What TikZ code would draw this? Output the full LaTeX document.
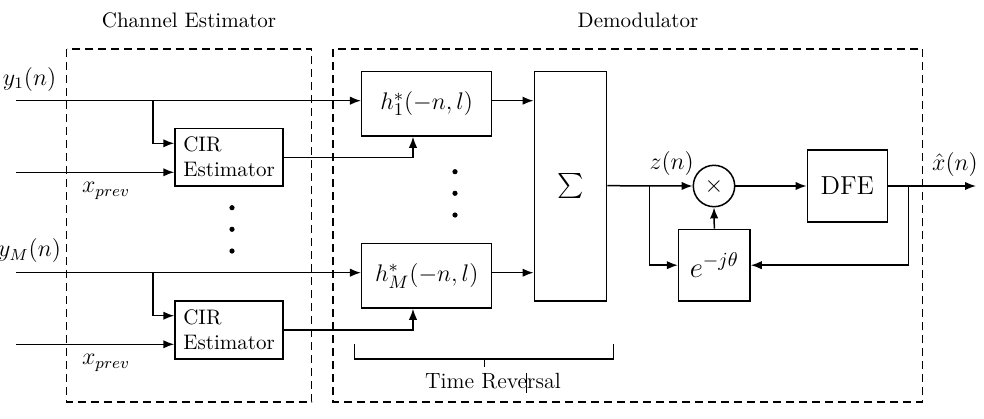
\documentclass[tikz,border=0pt]{standalone}
\usepackage{graphicx}
\usetikzlibrary{arrows.meta,calc}
\begin{document}
\begin{tikzpicture}[x=0.5pt,y=-0.5pt,
  line width=0.75pt,
  arr/.style={-{Latex[length=5.5pt,width=4.2pt]}},
  dbox/.style={draw,dash pattern=on 4pt off 2.5pt,line width=0.6pt},
  blk/.style={draw,inner sep=0pt,font=\fontsize{13}{15}\selectfont},
  cirbox/.style={draw,inner sep=0pt,minimum width=54pt,minimum height=28.9pt,align=left,font=\fontsize{10.5}{12.5}\selectfont},
  lbl/.style={inner sep=0pt,font=\fontsize{12}{14}\selectfont},
  ttl/.style={inner sep=0pt,font=\fontsize{10.5}{12}\selectfont},
  dotc/.style={circle,fill,inner sep=0pt,minimum size=2.6pt}
]
\useasboundingbox (0,0) rectangle (984,418);
% dashed group boxes
\draw[dbox] (66.7,49) rectangle (311.7,402);
\draw[dbox] (333,49) rectangle (922.3,402);
\node[ttl] (tce) at (189,20) {Channel Estimator};
\node[ttl] (tdm) at (638,20) {Demodulator};
% blocks
\node[cirbox] (cir1) at (229,157.2) {CIR\\Estimator};
\node[cirbox] (cir2) at (229,330) {CIR\\Estimator};
\node[blk,minimum width=65pt,minimum height=32.2pt] (h1) at (426.7,103.8) {$h_1^*(-n,l)$};
\node[blk,minimum width=65pt,minimum height=32.2pt] (hM) at (426.7,275.8) {$h_M^*(-n,l)$};
\node[blk,minimum width=36.2pt,minimum height=114.6pt] (sum) at (570.5,186.3) {\scalebox{1.25}{$\textstyle\sum$}};
\node[draw,circle,inner sep=0pt,minimum size=20.7pt,font=\fontsize{13}{15}\selectfont] (mul) at (714,186) {$\times$};
\node[blk,minimum width=35.7pt,minimum height=35.8pt,font=\fontsize{14.4}{16}\selectfont] (rot) at (714.3,265.2) {$e^{-j\theta}$};
\node[blk,minimum width=40pt,minimum height=36pt] (dfe) at (847.3,186) {DFE};
% coordinates
\coordinate (y1s) at (16,100.7);
\coordinate (yMs) at (16,272.7);
\coordinate (x1s) at (16,172.3);
\coordinate (x2s) at (16,344.3);
\coordinate (b1) at (153,100.7);
\coordinate (b2) at (153,272.7);
\coordinate (zb) at (649.3,185.7);
\coordinate (fb) at (908.3,186);
\coordinate (xend) at (976,186);
% labels
\node[lbl,anchor=base east] (ly1) at (57,85) {$y_1(n)$};
\node[lbl,anchor=base east] (lyM) at (61.7,256.7) {$y_M(n)$};
\node[lbl] (lx1) at (106,191) {$x_{prev}$};
\node[lbl] (lx2) at (106,363) {$x_{prev}$};
\node[lbl] (lz) at (671.7,163) {$z(n)$};
\node[lbl] (lxh) at (955,164) {$\hat{x}(n)$};
% inputs
\draw[arr] (y1s) -- (y1s -| h1.west);
\draw[arr] (b1) |- (cir1.west |- 0,143.3);
\draw[arr] (x1s) -- (x1s -| cir1.west);
\draw[arr] (yMs) -- (yMs -| hM.west);
\draw[arr] (b2) |- (cir2.west |- 0,315.7);
\draw[arr] (x2s) -- (x2s -| cir2.west);
% CIR to filters
\draw[arr] (cir1.east |- 0,157.3) -| (h1.south -| 413,0);
\draw[arr] (cir2.east |- 0,330) -| (hM.south -| 413,0);
% filters to sum
\draw[arr] (h1.east |- y1s) -- (sum.west |- y1s);
\draw[arr] (hM.east |- yMs) -- (sum.west |- yMs);
% demod chain
\draw[arr] (sum.east |- zb) -- (mul.west);
\draw[arr] (zb) |- (rot.west);
\draw[arr] (rot.north) -- (mul.south);
\draw[arr] (mul.east) -- (dfe.west);
\draw[arr] (dfe.east) -- (xend);
\draw[arr] (fb) |- (rot.east);
% dots
\foreach \yy [count=\i] in {171.7,193.3,215} \node[dotc] (dr\i) at (455,\yy) {};
\foreach \yy [count=\i] in {207.7,229.3,251} \node[dotc] (dl\i) at (232,\yy) {};
% brace
\coordinate (brl) at (354.3,344.3);
\coordinate (brr) at (613.7,344.3);
\draw[line width=0.6pt] (brl) -- (354.3,359) -- (613.7,359) -- (brr);
\draw[line width=0.6pt] (484.3,359) -- (484.3,366.7);
\node[ttl,font=\fontsize{11}{13}\selectfont] (ltr) at (493,381) {Time Reversal};
\draw[line width=0.5pt] (526.7,373) -- (526.7,393);
\end{tikzpicture}
\end{document}
